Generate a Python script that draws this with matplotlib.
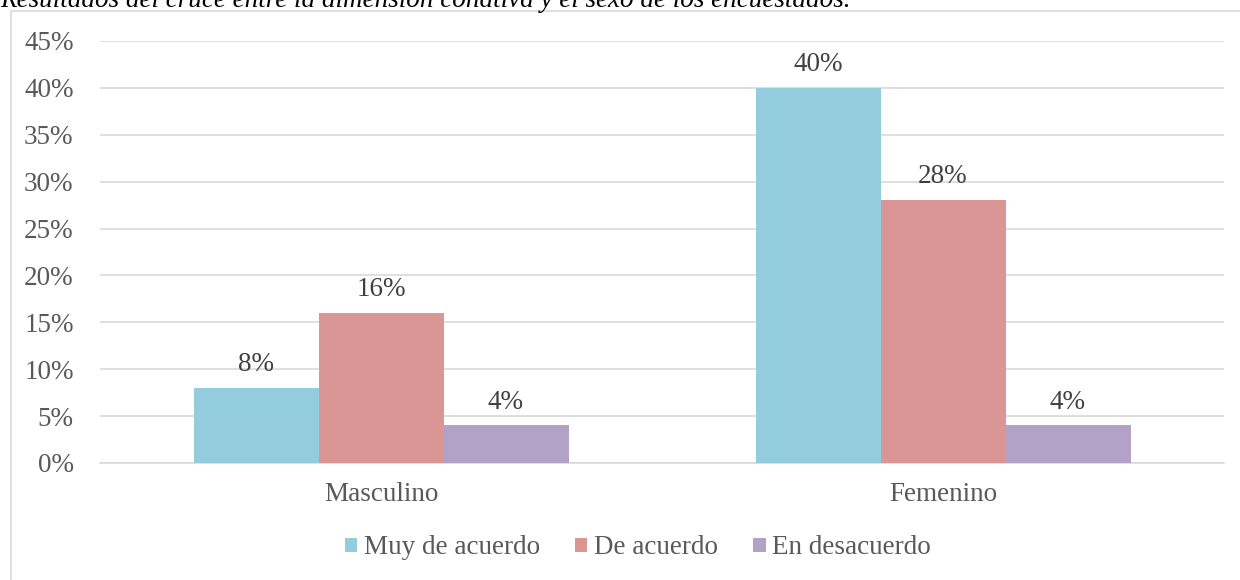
import numpy as np
import matplotlib
matplotlib.use('Agg')
from matplotlib import pyplot as plt
from matplotlib.patches import Rectangle

categories = ['Masculino', 'Femenino']
series = ['Muy de acuerdo', 'De acuerdo', 'En desacuerdo']
values = {
    'Muy de acuerdo': [0.08, 0.40],
    'De acuerdo': [0.16, 0.28],
    'En desacuerdo': [0.04, 0.04],
}
colors = ['#93CDDD', '#D99694', '#B3A2C7']
title = 'Resultados del cruce entre la dimensión conativa y el sexo de los encuestados.'

plt.rcParams['font.family'] = ['Liberation Serif', 'DejaVu Serif']
FS = 19.5

W, H = 1240, 580
fig = plt.figure(figsize=(W / 100, H / 100), dpi=100)

# outer chart frame (cut at right and bottom like the screenshot)
fig.patches.append(Rectangle((11 / W, -0.1), 1.2, 1 - 11 / H + 0.1, transform=fig.transFigure,
                             fill=False, edgecolor='#D9D9D9', linewidth=1.2))
fig.text(0.0, 1 - 7 / H, title, fontsize=19.5, style='italic', color='black', va='baseline')

ax = fig.add_axes([100 / W, (H - 463) / H, (1224 - 100) / W, (463 - 41) / H])
x = np.arange(len(categories))
width = 125 / 562
for i, s in enumerate(series):
    pos = x + (i - 1) * width
    bars = ax.bar(pos, values[s], width, color=colors[i], label=s, zorder=3)
    for b, v in zip(bars, values[s]):
        ax.annotate('%d%%' % round(v * 100), (b.get_x() + b.get_width() / 2, v),
                    xytext=(0, 12.2), textcoords='offset points',
                    ha='center', va='baseline', fontsize=FS, color='#404040')

ax.set_xlim(-0.5, 1.5)
ax.set_ylim(0, 0.45)
ticks = np.arange(0, 0.451, 0.05)
ax.set_yticks(ticks)
ax.set_yticklabels(['%d%%' % round(t * 100) for t in ticks])
ax.set_xticks(x)
ax.set_xticklabels(categories)
ax.tick_params(axis='both', length=0, labelsize=FS, labelcolor='#595959')
ax.tick_params(axis='y', pad=19)
ax.tick_params(axis='x', pad=14)
ax.grid(axis='y', color='#D9D9D9', linewidth=1.2, zorder=0)
for sp in ['top', 'right', 'left']:
    ax.spines[sp].set_visible(False)
ax.spines['bottom'].set_color('#D9D9D9')
ax.spines['bottom'].set_linewidth(1.2)

leg = fig.legend(loc='center', bbox_to_anchor=(638 / W, (H - 548) / H), ncol=3, frameon=False,
                 fontsize=FS, handlelength=0.45, handleheight=0.45, handletextpad=0.25,
                 columnspacing=1.3, labelcolor='#595959')

fig.savefig('out.png', dpi=100)
